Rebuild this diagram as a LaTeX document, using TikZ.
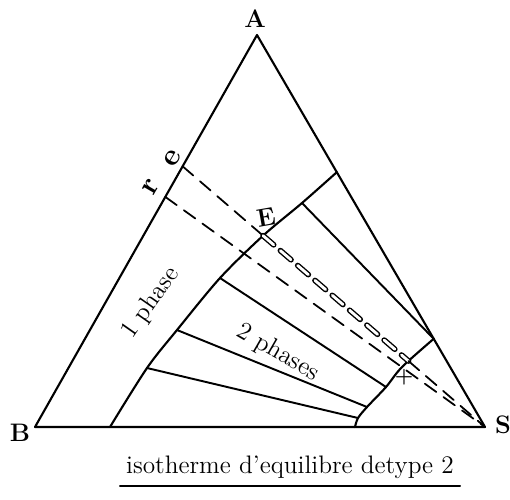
\documentclass[tikz,border=0pt]{standalone}
\usepackage{tikz}
\usetikzlibrary{calc, positioning}

\tikzset{
  edge/.style={line width=1.2pt},
  tieline/.style={line width=1.1pt},
  dashline/.style={line width=1pt, dash pattern=on 8pt off 5pt},
  corner/.style={font=\Large\bfseries}
}

\begin{document}
\begin{tikzpicture}[line cap=round, line join=round]
\useasboundingbox (-0.7,-1.44) rectangle (9.5,8.54);

% Triangle
\coordinate (B) at (0,0);
\coordinate (S) at (9,0);
\coordinate (A) at (4.44,7.84);
\draw[edge] (A) -- (B) -- (S) -- cycle;
\node[corner] (labA) at (4.4,8.16) {A};
\node[corner] (labB) at (-0.3,-0.12) {B};
\node[corner] (labS) at (9.36,0.04) {S};

% Points on the sides
\coordinate (e) at ($(B)!0.665!(A)$);
\coordinate (r) at ($(B)!0.587!(A)$);
\coordinate (P) at ($(A)!0.35!(S)$);
\coordinate (Q) at ($(A)!0.775!(S)$);
\coordinate (E) at ($(e)!0.266!(S)$);
\coordinate (X) at ($(e)!0.747!(S)$);

% Binodal curve, left branch
\coordinate (L0) at (1.5,0);
\coordinate (L1) at (2.24,1.18);
\coordinate (L2) at (2.84,1.94);
\coordinate (L3) at (3.70,2.98);
\coordinate (L4) at (5.34,4.48);
\draw[edge] plot[smooth, tension=0.5] coordinates {(L0) (L1) (L2) (L3) (E) (L4) (P)};

% Binodal curve, right branch
\coordinate (R0) at (6.4,0);
\coordinate (Ra) at (6.46,0.18);
\coordinate (Rb) at (6.64,0.40);
\coordinate (Rc) at (7.02,0.80);
\coordinate (Rm) at (7.34,1.20);
\draw[edge] plot[smooth, tension=0.5] coordinates {(R0) (Ra) (Rb) (Rc) (Rm) (Q)};

% Tie lines
\draw[tieline] (L1) -- (Ra);
\draw[tieline] (L2) -- (Rb);
\draw[tieline] (L3) -- (Rc);
\draw[tieline] (L4) -- (Q);

% Dashed lines to S
\draw[dashline] (e) -- (E);
\draw[dashline, double, double distance=1.6pt, line width=0.8pt] (E) -- (X);
\draw[dashline] (X) -- (S);
\draw[dashline] (r) -- (S);
\node[font=\large\bfseries] (plus) at (7.38,1.0) {+};

% Labels
\node[font=\LARGE\bfseries, rotate=60] (labe) at (2.76,5.38) {e};
\node[font=\LARGE\bfseries, rotate=60] (labr) at (2.32,4.8) {r};
\node[font=\Large\bfseries, rotate=10] (labE) at (4.62,4.2) {E};
\node[font=\Large, rotate=55] (one) at (2.32,2.48) {1 phase};
\node[font=\Large, rotate=-30] (two) at (4.86,1.48) {2 phases};

% Title
\node[font=\Large] (title) at (5.1,-0.8) {isotherme d'equilibre detype 2};
\draw[line width=1pt] ([yshift=-1pt]title.south west) -- ([yshift=-1pt]title.south east);
\end{tikzpicture}
\end{document}
